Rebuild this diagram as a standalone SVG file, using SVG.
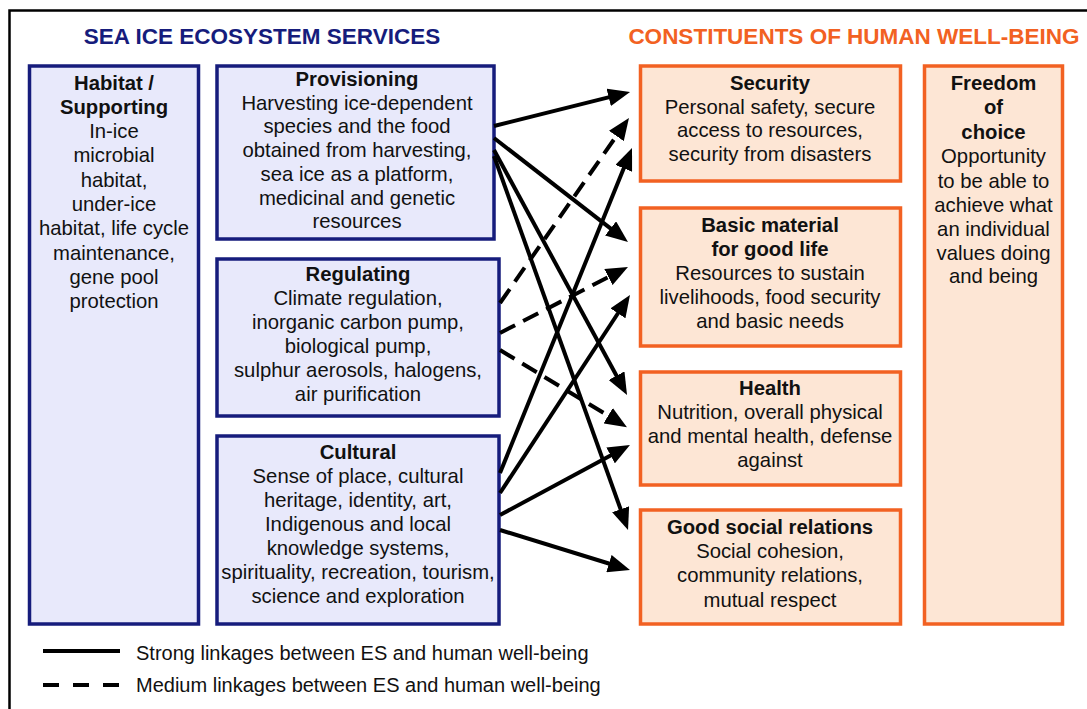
<svg xmlns="http://www.w3.org/2000/svg" width="1087" height="709" viewBox="0 0 1087 709">
<style>
text{font-family:"Liberation Sans",Arial,sans-serif;font-size:20.3px;fill:#111;text-anchor:middle}
.b{font-weight:bold}
.title{font-weight:bold;font-size:22.5px}
.es{fill:#e8e9fb;stroke:#161c7c;stroke-width:3.5}
.hw{fill:#fde6d5;stroke:#f26122;stroke-width:3.5}
.ln{stroke:#000;stroke-width:4;fill:none}
.dash{stroke-dasharray:17 9}
.leg{text-anchor:start;font-size:20px}
</style>
<defs>
<marker id="ah" markerUnits="userSpaceOnUse" markerWidth="22" markerHeight="18" refX="10" refY="9" orient="auto" viewBox="0 0 22 18">
<path d="M0,0 L22,9 L0,18 Z" fill="#000" stroke="none"/>
</marker>
</defs>
<rect width="1087" height="709" fill="#fff"/>
<path d="M9.5,709 V10.5 H1087" fill="none" stroke="#000" stroke-width="2.5"/>
<text class="title" x="262" y="44" style="fill:#161c7c">SEA ICE ECOSYSTEM SERVICES</text>
<text class="title" x="854" y="44" style="fill:#f26122">CONSTITUENTS OF HUMAN WELL-BEING</text>

<g id="habitat">
<rect class="es" x="29.5" y="66" width="169" height="558"/>
<text class="b" x="114" y="89.5">Habitat /</text>
<text class="b" x="114" y="113.8">Supporting</text>
<text x="114" y="138.1">In-ice</text>
<text x="114" y="162.4">microbial</text>
<text x="114" y="186.7">habitat,</text>
<text x="114" y="211">under-ice</text>
<text x="114" y="235.3">habitat, life cycle</text>
<text x="114" y="259.6">maintenance,</text>
<text x="114" y="283.9">gene pool</text>
<text x="114" y="308.2">protection</text>
</g>

<g id="provisioning">
<rect class="es" x="217" y="66" width="277" height="173"/>
<text class="b" x="357" y="86">Provisioning</text>
<text x="357" y="109.7">Harvesting ice-dependent</text>
<text x="357" y="133.4">species and the food</text>
<text x="357" y="157.1">obtained from harvesting,</text>
<text x="357" y="180.8">sea ice as a platform,</text>
<text x="357" y="204.5">medicinal and genetic</text>
<text x="357" y="228.2">resources</text>
</g>

<g id="regulating">
<rect class="es" x="217" y="259" width="282" height="157"/>
<text class="b" x="358" y="281">Regulating</text>
<text x="358" y="305">Climate regulation,</text>
<text x="358" y="329">inorganic carbon pump,</text>
<text x="358" y="353">biological pump,</text>
<text x="358" y="377">sulphur aerosols, halogens,</text>
<text x="358" y="401">air purification</text>
</g>

<g id="cultural">
<rect class="es" x="217" y="436" width="282" height="188"/>
<text class="b" x="358" y="459">Cultural</text>
<text x="358" y="483">Sense of place, cultural</text>
<text x="358" y="507">heritage, identity, art,</text>
<text x="358" y="531">Indigenous and local</text>
<text x="358" y="555">knowledge systems,</text>
<text x="358" y="579">spirituality, recreation, tourism,</text>
<text x="358" y="603">science and exploration</text>
</g>

<g id="security">
<rect class="hw" x="640.5" y="66" width="260" height="115"/>
<text class="b" x="770" y="90">Security</text>
<text x="770" y="113.5">Personal safety, secure</text>
<text x="770" y="137">access to resources,</text>
<text x="770" y="160.5">security from disasters</text>
</g>

<g id="basic">
<rect class="hw" x="640.5" y="208" width="260" height="138"/>
<text class="b" x="770" y="232">Basic material</text>
<text class="b" x="770" y="256">for good life</text>
<text x="770" y="280">Resources to sustain</text>
<text x="770" y="304">livelihoods, food security</text>
<text x="770" y="328">and basic needs</text>
</g>

<g id="health">
<rect class="hw" x="640.5" y="372" width="260" height="113"/>
<text class="b" x="770" y="395">Health</text>
<text x="770" y="419">Nutrition, overall physical</text>
<text x="770" y="443">and mental health, defense</text>
<text x="770" y="467">against</text>
</g>

<g id="social">
<rect class="hw" x="640.5" y="510" width="260" height="114"/>
<text class="b" x="770" y="534">Good social relations</text>
<text x="770" y="558">Social cohesion,</text>
<text x="770" y="582">community relations,</text>
<text x="770" y="607">mutual respect</text>
</g>

<g id="freedom">
<rect class="hw" x="924.5" y="66" width="138" height="558"/>
<text class="b" x="993.5" y="90">Freedom</text>
<text class="b" x="993.5" y="114">of</text>
<text class="b" x="993.5" y="139">choice</text>
<text x="993.5" y="163">Opportunity</text>
<text x="993.5" y="188">to be able to</text>
<text x="993.5" y="212">achieve what</text>
<text x="993.5" y="236">an individual</text>
<text x="993.5" y="260">values doing</text>
<text x="993.5" y="283">and being</text>
</g>

<g id="connectors">
<line class="ln" x1="494" y1="126" x2="618.4" y2="94.9" marker-end="url(#ah)"/>
<line class="ln" x1="494" y1="138" x2="618.5" y2="234.6" marker-end="url(#ah)"/>
<line class="ln" x1="494" y1="150" x2="621.3" y2="384.5" marker-end="url(#ah)"/>
<line class="ln" x1="494" y1="156" x2="624" y2="518.7" marker-end="url(#ah)"/>
<line class="ln" x1="500" y1="473" x2="627.5" y2="159.1" marker-end="url(#ah)"/>
<line class="ln" x1="500" y1="493" x2="623.4" y2="305" marker-end="url(#ah)"/>
<line class="ln" x1="500" y1="515" x2="619.4" y2="450.7" marker-end="url(#ah)"/>
<line class="ln" x1="500" y1="530" x2="618.5" y2="566.5" marker-end="url(#ah)"/>
<line class="ln dash" x1="500" y1="303" x2="622.1" y2="127.8" marker-end="url(#ah)"/>
<line class="ln dash" x1="500" y1="333" x2="617.3" y2="272.5" marker-end="url(#ah)"/>
<line class="ln dash" x1="500" y1="350" x2="616.7" y2="420.9" marker-end="url(#ah)"/>
</g>

<g id="legend">
<line class="ln" x1="43" y1="651" x2="120" y2="651"/>
<line class="ln" x1="43" y1="685" x2="119" y2="685" style="stroke-dasharray:16 14"/>
<text class="leg" x="136" y="660">Strong linkages between ES and human well-being</text>
<text class="leg" x="136" y="692">Medium linkages between ES and human well-being</text>
</g>
</svg>
